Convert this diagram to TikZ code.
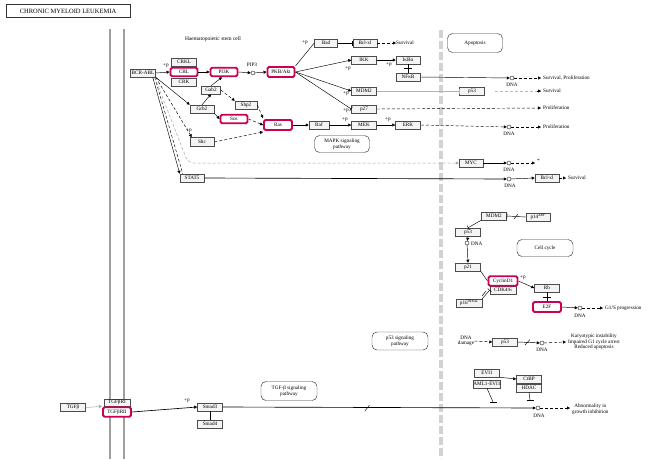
\documentclass[tikz,border=0pt]{standalone}
\usepackage{fontspec}
\setmainfont{Liberation Serif}
\usetikzlibrary{arrows.meta}
\definecolor{kpink}{RGB}{204,0,85}
\newcommand{\fs}{\fontsize{5.2}{5.8}\selectfont}
\tikzset{
 gb/.style={draw=black!70, fill=gray!9, line width=0.5pt, minimum width=25pt, minimum height=8pt, inner sep=0pt, font=\fs},
 hb/.style={draw=kpink, fill=white, line width=1.9pt, rounded corners=1.5pt, minimum width=26pt, minimum height=8.5pt, inner sep=0pt, font=\fs},
 pw/.style={draw=black!80, line width=0.45pt, rounded corners=5pt, minimum width=55pt, minimum height=18pt, align=center, font=\fs, inner sep=0pt},
 lbl/.style={font=\fs, inner sep=0pt},
 dnac/.style={circle, draw=black!85, fill=white, line width=0.45pt, minimum size=4pt, inner sep=0pt},
 ar/.style={-{Triangle[length=3pt,width=3pt]}, line width=0.45pt},
 inh/.style={-{Bar[width=5pt]}, line width=0.45pt},
 dsh/.style={dash pattern=on 3pt off 2pt},
 memb/.style={draw=gray!75, line width=2.4pt},
}
\begin{document}
\begin{tikzpicture}[x=1pt,y=-1pt]
\useasboundingbox (0,0) rectangle (653,459);
\fill[white] (0,0) rectangle (653,459);

% title
\node[draw=black!80, line width=0.7pt, minimum width=124pt, minimum height=13pt, inner sep=0pt, font=\fontsize{6.5}{7}\selectfont] (title) at (68,11) {CHRONIC MYELOID LEUKEMIA};

% membrane and dashed separator
\draw[memb] (110,29) -- (110,459);
\draw[memb] (124,29) -- (124,459);
\draw[gray!35, line width=4pt, dash pattern=on 8pt off 3pt] (441,30) -- (441,459);

\node[lbl, font=\fontsize{5.5}{6}\selectfont] (hsc) at (213,39) {Haematopoietic stem cell};

% upper left cluster
\node[gb] (bcr) at (143,73) {BCR-ABL};
\node[gb] (crkl) at (184,62) {CRKL};
\node[gb] (crk) at (184,82) {CRK};
\node[hb, minimum width=27pt] (cbl) at (184,72) {CBL};
\node[hb, minimum width=27pt] (pi3k) at (224,72) {PI3K};
\node[dnac] (pip3) at (253,73) {};
\node[lbl] (pip3l) at (252,65) {PIP3};
\node[hb, minimum width=27pt, minimum height=10pt] (akt) at (281,72) {PKB/Akt};
\node[gb, minimum width=19pt] (gab2) at (211,90) {Gab2};
\node[gb, minimum width=24pt] (grb2) at (202,109) {Grb2};
\node[gb, minimum width=22pt] (shp2) at (246,105) {Shp2};
\node[hb, minimum width=27pt] (sos) at (234,119) {Sos};
\node[hb, minimum width=28pt, minimum height=10pt] (ras) at (278,125) {Ras};
\node[gb, minimum width=24pt, minimum height=9pt] (shc) at (202,142) {Shc};
\node[gb, minimum width=20pt] (raf) at (319,125) {Raf};
\node[gb] (mek) at (364,125) {MEK};
\node[gb] (erk) at (408,125) {ERK};
\node[pw, minimum width=55pt, minimum height=17pt] (mapk) at (342,144) {MAPK signaling\\pathway};
\node[gb, minimum width=23pt] (bad) at (326,43) {Bad};
\node[gb, minimum width=24pt] (bclxl) at (365,43) {Bcl-xl};
\node[lbl, anchor=west] (surv1) at (396,43) {Survival};
\node[gb] (ikk) at (364,60) {IKK};
\node[gb, minimum width=24pt] (ikba) at (408,60) {IκBα};
\node[gb, minimum width=24pt] (nfkb) at (408,77) {NFκB};
\node[gb] (mdm2) at (364,91) {MDM2};
\node[gb] (p27) at (364,109) {p27};
\node[pw, minimum width=55pt, minimum height=19pt] (apop) at (475,43) {Apoptosis};
\node[gb] (p53a) at (472,91) {p53};
\node[gb, minimum width=24pt] (stat5) at (192,178) {STAT5};
\node[gb, minimum width=24pt] (myc) at (471,163) {MYC};
\node[gb, minimum width=24pt] (bclxl2) at (547,178) {Bcl-xl};

% DNA circles right column
\node[dnac] (dna1) at (512,78) {};
\node[dnac] (dna2) at (509,127) {};
\node[dnac] (dna3) at (509,163) {};
\node[dnac] (dna4) at (509,179) {};
\node[lbl] at (512,85) {DNA};
\node[lbl] at (509,134) {DNA};
\node[lbl] at (509,170) {DNA};
\node[lbl] at (510,186) {DNA};

% right texts
\node[lbl, anchor=west] (t1) at (543,78) {Survival, Proliferation};
\node[lbl, anchor=west] (t2) at (543,91) {Survival};
\node[lbl, anchor=west] (t3) at (543,108) {Proliferation};
\node[lbl, anchor=west] (t4) at (543,127) {Proliferation};
\node[lbl, anchor=west] (t5) at (537,161) {*};
\node[lbl, anchor=west] (t6) at (568,178) {Survival};
\coordinate (e1) at (541,78);
\coordinate (e2) at (541,91);
\coordinate (e3) at (541,108);
\coordinate (e4) at (541,127);
\coordinate (e5) at (535,163);
\coordinate (e6) at (566,178);

% cell cycle
\node[gb] (mdm2b) at (494,216) {MDM2};
\node[gb, minimum width=24pt] (p14) at (538,217) {p14\textsuperscript{\itshape ARF}};
\node[gb] (p53b) at (468,232) {p53};
\node[dnac] (dna5) at (467,243) {};
\node[lbl, anchor=west] at (471,244) {DNA};
\node[gb] (p21) at (468,267) {p21};
\node[gb, minimum width=26pt] (cdk) at (503,290) {CDK4/6};
\node[hb, minimum width=29pt, minimum height=9.5pt] (cycd) at (503,281) {CyclinD1};
\node[gb, minimum width=26pt] (p16) at (469,303) {p16\textsuperscript{INK4a}};
\node[gb] (rb) at (547,288) {Rb};
\node[hb, minimum width=28pt, minimum height=10pt] (e2f) at (547,307) {E2F};
\node[dnac] (dna6) at (580,308) {};
\node[lbl] at (580,316) {DNA};
\node[lbl, anchor=west] (g1s) at (605,308) {G1/S progression};
\coordinate (e7) at (603,308);
\node[pw, minimum width=56pt, minimum height=17pt] (cc) at (545,248) {Cell cycle};

% p53 signaling / DNA damage
\node[pw, minimum width=56pt, minimum height=18pt] (p53p) at (400,341) {p53 signaling\\pathway};
\node[lbl, align=center, font=\fontsize{5.2}{4.6}\selectfont] (dnad) at (466,341) {DNA\\damage};
\node[gb] (p53c) at (505,342) {p53};
\node[dnac] (dna7) at (542,343) {};
\node[lbl] at (542,350) {DNA};
\node[lbl, align=center, anchor=west, font=\fontsize{5.2}{4.7}\selectfont] (kary) at (568,342) {Karyotypic instability\\Impaired G1 cycle arrest\\Reduced apoptosis};
\coordinate (e8) at (566,342);

% bottom right
\node[gb] (evi1) at (487,373) {EVI1};
\node[gb] (aml) at (487,384) {AML1-EVI1};
\node[gb] (ctbp) at (529,379) {CtBP};
\node[gb] (hdac) at (529,388) {HDAC};
\node[dnac] (dna8) at (538,408) {};
\node[lbl] at (539,416) {DNA};
\node[lbl, align=center, anchor=west, font=\fontsize{5.2}{4.7}\selectfont] (abn) at (572,409) {Abnormality in\\growth inhibition};
\coordinate (e9) at (570,408);
\coordinate (amlend) at (493,402);
\coordinate (hdacend) at (530,400);

% bottom left
\node[gb] (tgfb) at (73,407.5) {TGFβ};
\node[gb, minimum width=26pt, minimum height=7.5pt] (tgfbr1) at (117,402.5) {TGFβRI};
\node[hb, minimum width=28pt, minimum height=9.5pt] (tgfbr2) at (117,412) {TGFβRII};
\node[gb] (smad3) at (210,407) {Smad3};
\node[gb] (smad4) at (210,424) {Smad4};
\node[pw, minimum width=56pt, minimum height=19pt] (tgfp) at (289,391) {TGF-β signaling\\pathway};

% ---------- connectors ----------
% BCR-ABL fan
\draw[ar] (bcr.east) -- (cbl.west);
\node[lbl] at (166,66) {+p};
\draw[ar] (bcr.south east) -- (grb2.north west);
\draw[ar, dsh] (bcr.south east) -- ([xshift=2pt]shc.north west);
\node[lbl] at (189,131) {+p};
\draw[ar] ([xshift=-3pt]bcr.south east) -- (stat5.north west);
\draw[dsh, line width=0.45pt] ([xshift=-1pt]bcr.south east) -- ([xshift=3pt]stat5.north west);
\draw[gray!70, dsh, line width=0.5pt, rounded corners=6pt, -{Triangle[length=3pt,width=3pt]}] ([xshift=-1pt]bcr.south east) -- (188,163) -- (myc.west);

% PI3K / Akt
\draw[ar] (cbl.east) -- (pi3k.west);
\draw[ar] (pi3k.east) -- (pip3);
\draw[ar] (pip3) -- (akt.west);
\draw[ar] (grb2.north) -- (gab2.south);
\draw[ar] (gab2.north) -- ([xshift=-2pt]pi3k.south);
\draw[ar, dsh] (gab2.east) -- (shp2.north west);
\draw[ar] (grb2.south east) -- (sos.west);
\draw[ar, dsh] (shp2.east) -- ([yshift=1pt]ras.north west);
\draw[ar, dsh] (sos.east) -- (ras.west);
\draw[ar, dsh] (shc.east) -- ([yshift=-1pt]ras.south west);

% MAPK
\draw[ar] (ras.east) -- (raf.west);
\draw[ar] (raf.east) -- (mek.west);
\node[lbl] at (345,120) {+p};
\draw[ar] (mek.east) -- (erk.west);
\node[lbl] at (388,120) {+p};
\draw[ar, dsh] (erk.east) -- (dna2);
\draw[ar, dsh] (dna2) -- (e4);

% Akt targets
\draw[line width=0.45pt] (akt.north east) -- (bad.west);
\node[lbl] at (305,43) {+p};
\draw[inh] (bad.east) -- (bclxl.west);
\draw[ar, dsh] (bclxl.east) -- (surv1.west);
\draw[ar] (akt.east) -- (ikk.west);
\node[lbl] at (348,69) {+p};
\draw[ar] (ikk.east) -- (ikba.west);
\node[lbl] at (389,65) {+p};
\draw[line width=0.5pt] (ikba.south) -- (nfkb.north);
\draw[line width=0.5pt] (404,68.5) -- (412,68.5);
\draw[ar] (nfkb.east) -- (dna1);
\draw[ar, dsh] (dna1) -- (e1);
\draw[ar] (akt.east) -- (mdm2.west);
\node[lbl] at (346,94) {+p};
\draw[gray!60, line width=0.6pt, -{Bar[width=5pt]}] (mdm2.east) -- (p53a.west);
\draw[gray!55, dsh, line width=0.5pt] (p53a.east) ++(10,0) -- (e2);
\draw[-{Triangle[length=3pt,width=3pt]}, black] (537,91) -- (e2);
\draw[inh] (akt.east) -- (p27.west);
\node[lbl] at (346,111) {+p};
\draw[ar, dsh] (p27.east) -- (e3);
\draw[ar] (myc.east) -- (dna3);
\draw[ar, dsh] (dna3) -- (e5);
\draw[ar, line width=0.65pt] (stat5.east) -- (dna4);
\draw[ar] (dna4) -- (bclxl2.west);
\draw[ar, dsh] (bclxl2.east) -- (e6);

% cell cycle connectors
\draw[inh] (p14.west) -- (mdm2b.east);
\draw[line width=0.45pt] (514,219) -- (518,214);
\draw[inh] (mdm2b.south west) -- (p53b.north);
\draw[ar] (p53b.south) -- (dna5);
\draw[ar] (dna5) -- (p21.north);
\draw[line width=0.45pt] (p21.south east) -- (cycd.west);
\draw[inh] (p16.north east) -- (cdk.west);
\draw[line width=0.45pt] (482,296) -- (486,291);
\draw[ar] (cycd.east) -- (rb.west);
\node[lbl] at (523,278) {+p};
\draw[line width=0.5pt] (rb.south) -- (e2f.north);
\draw[line width=0.5pt] (543,297) -- (551,297);
\draw[ar] (e2f.east) -- (dna6);
\draw[ar, dsh] (dna6) -- (e7);

% DNA damage row
\draw[ar, dsh] (dnad.east) -- (p53c.west);
\draw[ar] (p53c.east) -- (dna7);
\draw[line width=0.45pt] (525,345) -- (530,339.5);
\draw[ar, dsh] (dna7) -- (e8);

% EVI1 / HDAC
\draw[ar] (evi1.south east) -- (ctbp.west);
\draw[line width=0.45pt] (aml.south) -- (amlend);
\draw[line width=0.55pt] (489.5,402) -- (496.5,402);
\draw[line width=0.45pt] (hdac.south) -- (hdacend);
\draw[line width=0.55pt] (526.5,400) -- (533.5,400);

% TGF-beta
\draw[gray!70, line width=0.5pt, -{Triangle[length=3pt,width=3pt]}] (tgfb.east) -- (tgfbr2.north west);
\draw[ar, line width=0.65pt] (tgfbr2.east) -- (smad3.west);
\node[lbl] at (187,401) {+p};
\draw[line width=0.45pt] (smad3.south) -- (smad4.north);
\draw[ar, line width=0.65pt] (smad3.east) -- (dna8);
\draw[line width=0.45pt] (365,411) -- (369.5,405);
\draw[ar, dsh] (dna8) -- (e9);
\end{tikzpicture}
\end{document}
